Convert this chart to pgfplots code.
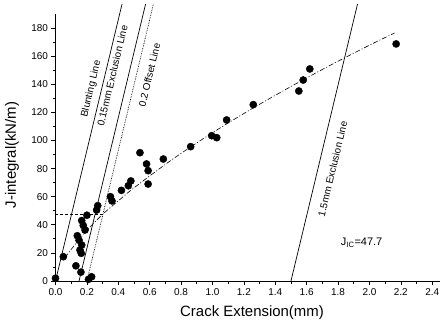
\documentclass[border=0pt]{standalone}
\usepackage{fontspec}
\setmainfont{Liberation Sans}
\usepackage{pgfplots}
\pgfplotsset{compat=1.18}
\begin{document}
\begin{tikzpicture}
\useasboundingbox (-55.5bp,-48bp) rectangle (392.5bp,281bp);
\begin{axis}[
  scale only axis,
  width=384.6bp, height=267bp,
  xmin=0, xmax=2.45, ymin=0, ymax=190,
  axis x line*=bottom, axis y line*=left,
  axis line style={-, line width=0.8pt},
  xtick={0,0.2,...,2.41}, ytick={0,20,...,180},
  minor x tick num=1, minor y tick num=1,
  tick align=outside,
  major tick length=4bp, minor tick length=2.5bp,
  tick style={line width=0.7pt, black},
  /pgf/number format/assume math mode=true,
  xticklabel style={/pgf/number format/.cd, fixed, fixed zerofill, precision=1},
  yticklabel style={/pgf/number format/.cd, fixed, precision=0},
  tick label style={font=\fontsize{10}{12}\selectfont},
  xlabel={Crack Extension(mm)},
  ylabel={J-integral(kN/m)},
  every axis x label/.style={at={(axis description cs:0.511,0)}, anchor=center, yshift=-32bp, font=\fontsize{15}{16}\selectfont},
  every axis y label/.style={at={([xshift=-43.5bp]axis description cs:0,0.472)}, rotate=90, anchor=center, font=\fontsize{15}{16}\selectfont},
  clip=false,
]
% blunting & exclusion lines
\addplot[black, line width=0.7pt] coordinates {(0,0) (0.4237,197)};
\addplot[black, line width=0.7pt] coordinates {(0.15,0) (0.5737,197)};
\addplot[black, line width=0.7pt, densely dotted] coordinates {(0.2,0) (0.6237,197)};
\addplot[black, line width=0.7pt] coordinates {(1.5,0) (1.9237,197)};
% J_IC horizontal
\addplot[black, line width=0.6pt, densely dashed] coordinates {(0,47.7) (0.305,47.7)};
% fit curve
\addplot[black, line width=0.6pt, dash pattern=on 5pt off 2pt on 1pt off 2pt, smooth] coordinates {
(0.06,16.5) (0.1,22.5) (0.2,36) (0.303,47.7) (0.4,57) (0.5,66.3) (0.75,87) (1.0,105.5) (1.25,122.5) (1.5,138.4) (1.75,153.5) (2.0,167.8) (2.16,176.5)};
% data
\addplot[only marks, mark=*, mark size=3.6bp, black] coordinates {
(0.00,2) (0.05,17.3) (0.13,10.8) (0.162,6.3) (0.21,1.2) (0.23,3)
(0.139,32.2) (0.15,29) (0.167,25.6) (0.156,22) (0.164,19.7)
(0.167,43) (0.177,39.5) (0.188,36.3) (0.20,46.8) (0.262,50.5) (0.269,53.6)
(0.35,60) (0.36,57) (0.42,64.5) (0.464,67.8) (0.48,71.2)
(0.538,91.3) (0.58,83.3) (0.59,78.5) (0.59,69) (0.687,86.8) (0.861,95.6)
(0.995,103.4) (1.027,102) (1.09,114.6) (1.26,125.5)
(1.55,135.2) (1.578,143) (1.62,150.9) (2.17,168.7)};
% labels
\node[rotate=76.5, font=\fontsize{10}{12}\selectfont] at (axis cs:0.228,136.7) {Blunting Line};
\node[rotate=76.5, font=\fontsize{10}{12}\selectfont] at (axis cs:0.362,146) {0.15mm Exclusion Line};
\node[rotate=76.5, font=\fontsize{10}{12}\selectfont] at (axis cs:0.598,146.6) {0.2 Offset Line};
\node[rotate=76.5, font=\fontsize{10}{12}\selectfont] at (axis cs:1.765,79.7) {1.5mm Exclusion Line};
\node[font=\fontsize{11}{12}\selectfont] at (axis cs:1.95,27) {J\textsubscript{IC}=47.7};
\end{axis}
\end{tikzpicture}
\end{document}
